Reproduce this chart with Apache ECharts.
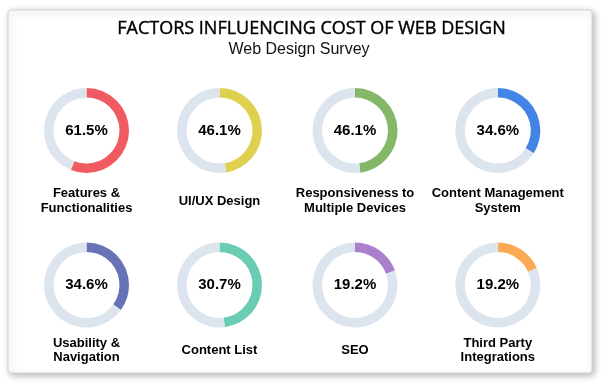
<!DOCTYPE html>
<html>
<head>
<meta charset="utf-8">
<script src="https://cdn.jsdelivr.net/npm/echarts@6/dist/echarts.min.js"></script>
<style>
html,body{margin:0;padding:0;background:#fff;}
#c{width:601px;height:384px;}
</style>
</head>
<body>
<div id="c"></div>
<script>
// ---- data ----
var categories = ['Features &\nFunctionalities', 'UI/UX Design', 'Responsiveness to\nMultiple Devices', 'Content Management\nSystem', 'Usability &\nNavigation', 'Content List', 'SEO', 'Third Party\nIntegrations'];
var percentLabels = [61.5, 46.1, 46.1, 34.6, 34.6, 30.7, 19.2, 19.2];
var arcValues = [56, 47.5, 48, 34, 35, 48, 19.5, 18.5];
var colors = ['#F05A61', '#DFD04F', '#84B867', '#4285E6', '#6773B6', '#6ACDB3', '#AA80CC', '#FBA955'];
var titleText = 'FACTORS INFLUENCING COST OF WEB DESIGN';
var subtitleText = 'Web Design Survey';

// ---- layout ----
var colX = [86.5, 219.5, 355, 497.8];
var rowY = [130.5, 285];
var labelY = [201, 350.5];

var chart = echarts.init(document.getElementById('c'), null, {renderer: 'canvas'});
var series = [];
var graphics = [
  {type: 'rect', shape: {x: 8, y: 10, width: 584, height: 363, r: 3},
   style: {fill: '#fff', stroke: '#d4d4d4', lineWidth: 1, shadowBlur: 7, shadowColor: 'rgba(0,0,0,0.3)', shadowOffsetX: 2, shadowOffsetY: 2}, z: -10},
  {type: 'text', x: 311.5, y: 29, style: {text: titleText, font: '18px "Open Sans"', fill: '#000', stroke: '#000', lineWidth: 0.4, textAlign: 'center', textVerticalAlign: 'middle'}},
  {type: 'text', x: 299, y: 49.5, style: {text: subtitleText, font: '16px "Liberation Sans", Arial', fill: '#111', textAlign: 'center', textVerticalAlign: 'middle'}}
];
categories.forEach(function (name, i) {
  var col = i % 4, row = Math.floor(i / 4);
  series.push({
    type: 'pie',
    center: [colX[col], rowY[row]],
    radius: [33, 42.5],
    startAngle: 90,
    clockwise: true,
    silent: true,
    animation: false,
    label: {show: false},
    labelLine: {show: false},
    data: [
      {value: arcValues[i], itemStyle: {color: colors[i]},
       label: {show: true, position: 'center', formatter: percentLabels[i].toFixed(1) + '%',
               fontFamily: '"Liberation Sans", Arial', fontWeight: 'bold', fontSize: 15, color: '#000'}},
      {value: 100 - arcValues[i], itemStyle: {color: '#DCE4EE'}}
    ]
  });
  graphics.push({type: 'text', x: colX[col], y: labelY[row],
    style: {text: name, font: 'bold 13px "Liberation Sans", Arial', fill: '#000', textAlign: 'center', textVerticalAlign: 'middle', lineHeight: 14.5}});
});

chart.setOption({
  animation: false,
  graphic: graphics,
  series: series
});
</script>
</body>
</html>
